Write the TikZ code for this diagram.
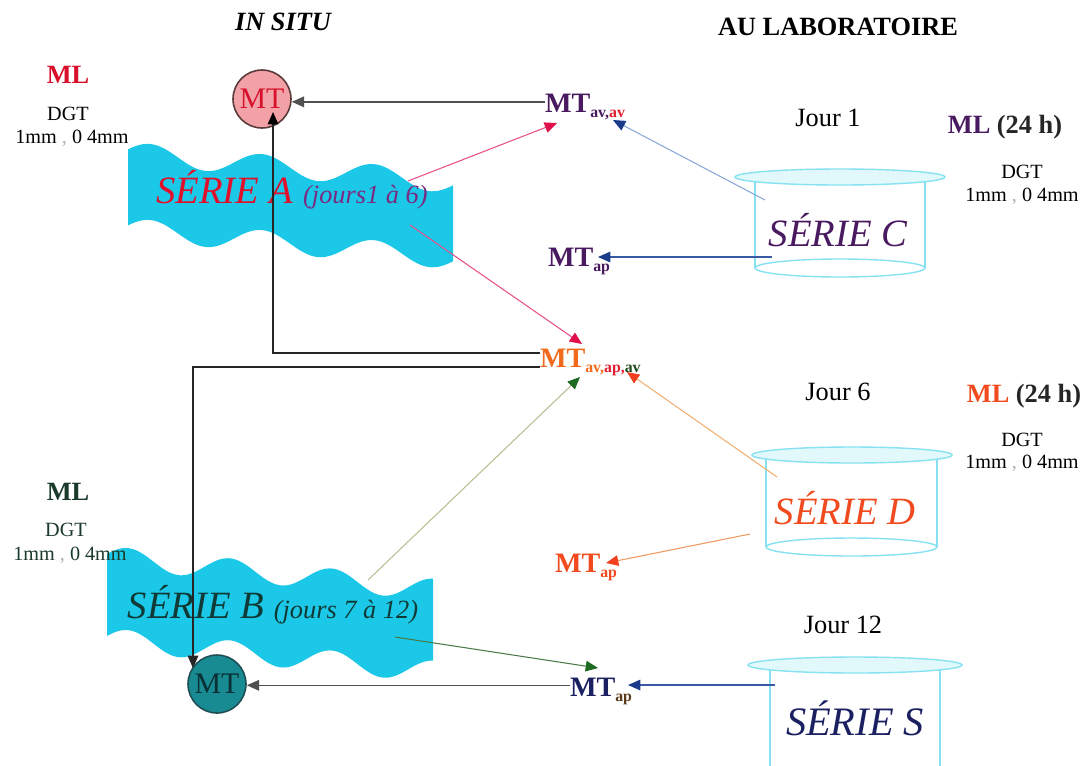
\documentclass[tikz,border=0pt]{standalone}
\usepackage{fontspec}
\setmainfont{Liberation Serif}
\usetikzlibrary{arrows.meta,calc}
\definecolor{bannercyan}{HTML}{1CC8E8}
\definecolor{cylline}{HTML}{86E2F0}
\definecolor{cylfill}{HTML}{E2F9FC}
\definecolor{mlred}{HTML}{D8102C}
\definecolor{serAred}{HTML}{E0102A}
\definecolor{jourpurple}{HTML}{7A2A80}
\definecolor{purpleC}{HTML}{4A1A60}
\definecolor{orangeD}{HTML}{F04A1E}
\definecolor{navyS}{HTML}{1A2060}
\definecolor{tealB}{HTML}{0F3A35}
\definecolor{greenML}{HTML}{1A3A2A}
\definecolor{pinkfill}{HTML}{F2A2A6}
\definecolor{circbrd}{HTML}{5A3A3A}
\definecolor{tealfill}{HTML}{178A92}
\definecolor{tealbrd}{HTML}{1F4F55}
\definecolor{tealtxt}{HTML}{0A3035}
\definecolor{mtorange}{HTML}{F26B1D}
\definecolor{apred}{HTML}{E02030}
\definecolor{avgreen}{HTML}{1E4A20}
\definecolor{brownap}{HTML}{5A3A1A}
\definecolor{pinkline}{HTML}{E8508A}
\definecolor{pinkhead}{HTML}{E0104A}
\definecolor{lblue}{HTML}{8AA8D8}
\definecolor{mblue}{HTML}{3A5AA8}
\definecolor{dblue}{HTML}{1A3A8A}
\definecolor{lorange}{HTML}{F0B070}
\definecolor{orhead}{HTML}{F04020}
\definecolor{paleolive}{HTML}{B8C090}
\definecolor{olive}{HTML}{4A7A4A}
\definecolor{dgreen}{HTML}{1E6A20}
\definecolor{grayarr}{HTML}{505050}
\newcommand{\msub}[1]{\raisebox{-3.2pt}{\fontsize{9}{9}\selectfont\bfseries #1}}
\begin{document}
\begin{tikzpicture}[x=0.02cm,y=-0.02cm,
  txt/.style={inner sep=0pt,outer sep=0pt,align=center},
  hdr/.style={txt,font=\fontsize{15}{18}\selectfont\bfseries},
  smalltxt/.style={txt,font=\fontsize{11.5}{13}\selectfont},
  jourtxt/.style={txt,font=\fontsize{15}{18}\selectfont},
  serie/.style={txt,font=\fontsize{22}{26}\selectfont\itshape},
  mtlbl/.style={inner sep=0pt,outer sep=0pt,anchor=base west,font=\fontsize{16}{19}\selectfont\bfseries},
  cyl/.style={draw=cylline,line width=0.8pt},
  hd/.style={-{Triangle[length=7pt,width=6pt,color=#1]}},
  conn/.style={line width=0.6pt},
  grayconn/.style={line width=0.9pt,draw=grayarr,hd=grayarr},
  blk/.style={line width=0.7pt,draw=black!85}
]
\useasboundingbox (0,0) rectangle (1087,765);
\fill[white] (0,0) rectangle (1087,765);
\clip (0,0) rectangle (1087,765);

% banners
\fill[bannercyan] plot[domain=128:453,samples=90] (\x,{153+0.09*(\x-128)-11*cos(3.2143*(\x-150))})
  -- plot[domain=453:128,samples=90] (\x,{229+0.09*(\x-128)-11*cos(3.2143*(\x-150))}) -- cycle;
\fill[bannercyan] plot[domain=107:433,samples=90] (\x,{557+0.1*(\x-107)-11*cos(3.5294*(\x-128))})
  -- plot[domain=433:107,samples=90] (\x,{639+0.1*(\x-107)-11*cos(3.5294*(\x-128))}) -- cycle;

% cylinders
\draw[cyl] (755,180) -- (755,268) (925,180) -- (925,268);
\draw[cyl] (840,268) ellipse [x radius=85,y radius=9];
\draw[cyl,fill=cylfill] (840,177) ellipse [x radius=105,y radius=8];
\draw[cyl] (766,458) -- (766,547) (937,458) -- (937,547);
\draw[cyl] (851.5,547) ellipse [x radius=85.5,y radius=9];
\draw[cyl,fill=cylfill] (852,455) ellipse [x radius=100,y radius=8];
\draw[cyl] (770,668) -- (770,780) (940,668) -- (940,780);
\draw[cyl,fill=cylfill] (855,665) ellipse [x radius=107,y radius=8];

% headers
\node[hdr,font=\fontsize{15}{18}\selectfont\bfseries\itshape] (insitu) at (283,22) {IN SITU};
\node[hdr] (aulab) at (838,27) {AU LABORATOIRE};

% left labels
\node[hdr,text=mlred] (mlA) at (68,75) {ML};
\node[smalltxt] (dgtA) at (68,114) {DGT};
\node[smalltxt] (mmA) at (72,138) {1mm {\color{black!30},} 0 4mm};
\node[hdr,text=greenML] (mlB) at (68,492) {ML};
\node[smalltxt,text=greenML] (dgtB) at (66,530) {DGT};
\node[smalltxt,text=greenML] (mmB) at (70,555) {1mm {\color{black!30},} 0 4mm};

% right labels
\node[jourtxt] (jour1) at (828,118) {Jour 1};
\node[hdr] (mlC) at (1005,127) {{\color{purpleC}ML} {\color{black!85}(24 h)}};
\node[smalltxt] (dgtC) at (1022,172) {DGT};
\node[smalltxt] (mmC) at (1022,196) {1mm {\color{black!30},} 0 4mm};
\node[jourtxt] (jour6) at (838,392) {Jour 6};
\node[hdr] (mlD) at (1024,396) {{\color{orangeD}ML} {\color{black!85}(24 h)}};
\node[smalltxt] (dgtD) at (1022,440) {DGT};
\node[smalltxt] (mmD) at (1022,463) {1mm {\color{black!30},} 0 4mm};
\node[jourtxt] (jour12) at (843,625) {Jour 12};

% series texts
\node[serie,text=serAred] (serA) at (292,190) {SÉRIE A\hspace{6pt}{\fontsize{15}{18}\selectfont\color{jourpurple}(jours1 à 6)}};
\node[serie,text=tealB] (serB) at (273,605) {SÉRIE B {\fontsize{15}{18}\selectfont(jours 7 à 12)}};
\node[serie,text=purpleC] (serC) at (838,230) {SÉRIE C};
\node[serie,text=orangeD] (serD) at (845,508) {SÉRIE D};
\node[serie,text=navyS,font=\fontsize{23}{26}\selectfont\itshape] (serS) at (855,718) {SÉRIE S};

% MT circles
\node[circle,draw=circbrd,line width=0.9pt,fill=pinkfill,minimum size=1.16cm,inner sep=0pt,
  text=mlred,font=\fontsize{17}{17}\selectfont] (mtA) at (262,99) {MT};
\node[circle,draw=tealbrd,line width=0.9pt,fill=tealfill,minimum size=1.16cm,inner sep=0pt,
  text=tealtxt,font=\fontsize{17}{17}\selectfont] (mtB) at (217,684) {MT};

% MT labels
\node[mtlbl] (mtavav) at (545,112) {{\color{purpleC}MT}\msub{{\color{purpleC}av,}{\color{apred}av}}};
\node[mtlbl,text=purpleC] (mtapC) at (548,266) {MT\msub{ap}};
\node[mtlbl] (mtavapav) at (540,367) {{\color{mtorange}MT}\msub{{\color{mtorange}av,}{\color{apred}ap,}{\color{avgreen}av}}};
\node[mtlbl,text=orangeD] (mtapD) at (555,572) {MT\msub{ap}};
\node[mtlbl] (mtapS) at (570,696) {{\color{navyS}MT}\msub{\color{brownap}ap}};

% coordinates
\coordinate (gA) at ($(mtavav.west)+(0,-5)$);
\coordinate (gS) at ($(mtapS.west)+(0,-6)$);
\coordinate (lA) at (540,353);
\coordinate (lAend) at (273,112);
\coordinate (lB) at (540,367);
\coordinate (lBend) at (193,668);
\coordinate (pA1) at (408,181);
\coordinate (pA1e) at (557,123);
\coordinate (pA2) at (410,225);
\coordinate (pA2e) at (582,344);
\coordinate (bC1) at (765,200);
\coordinate (bC1e) at (613,120);
\coordinate (bC2) at (772,257);
\coordinate (bC2e) at (598,257);
\coordinate (oD1) at (777,477);
\coordinate (oD1e) at (627,372);
\coordinate (oD2) at (750,534);
\coordinate (oD2e) at (606,563);
\coordinate (gB1) at (368,580);
\coordinate (gB1e) at (580,377);
\coordinate (gB2) at (395,637);
\coordinate (gB2e) at (598,668);
\coordinate (bS) at (775,685);
\coordinate (bSe) at (628,685);

% connectors
\draw[grayconn] (gA) -- (gA -| mtA.east);
\draw[grayconn] (gS) -- (gS -| mtB.east);
\draw[blk,hd=black] (lA) -| (lAend);
\draw[blk,hd=black!85] (lB) -| (lBend);
\draw[conn,draw=pinkline,hd=pinkhead] (pA1) -- (pA1e);
\draw[conn,draw=pinkline,hd=pinkhead] (pA2) -- (pA2e);
\draw[conn,draw=lblue,hd=dblue] (bC1) -- (bC1e);
\draw[conn,draw=mblue,hd=dblue] (bC2) -- (bC2e);
\draw[conn,draw=lorange,hd=orhead] (oD1) -- (oD1e);
\draw[conn,draw=lorange!80!orhead,hd=orhead] (oD2) -- (oD2e);
\draw[conn,draw=paleolive,hd=dgreen] (gB1) -- (gB1e);
\draw[conn,draw=olive,hd=dgreen] (gB2) -- (gB2e);
\draw[conn,draw=mblue,hd=dblue] (bS) -- (bSe);
\end{tikzpicture}
\end{document}
